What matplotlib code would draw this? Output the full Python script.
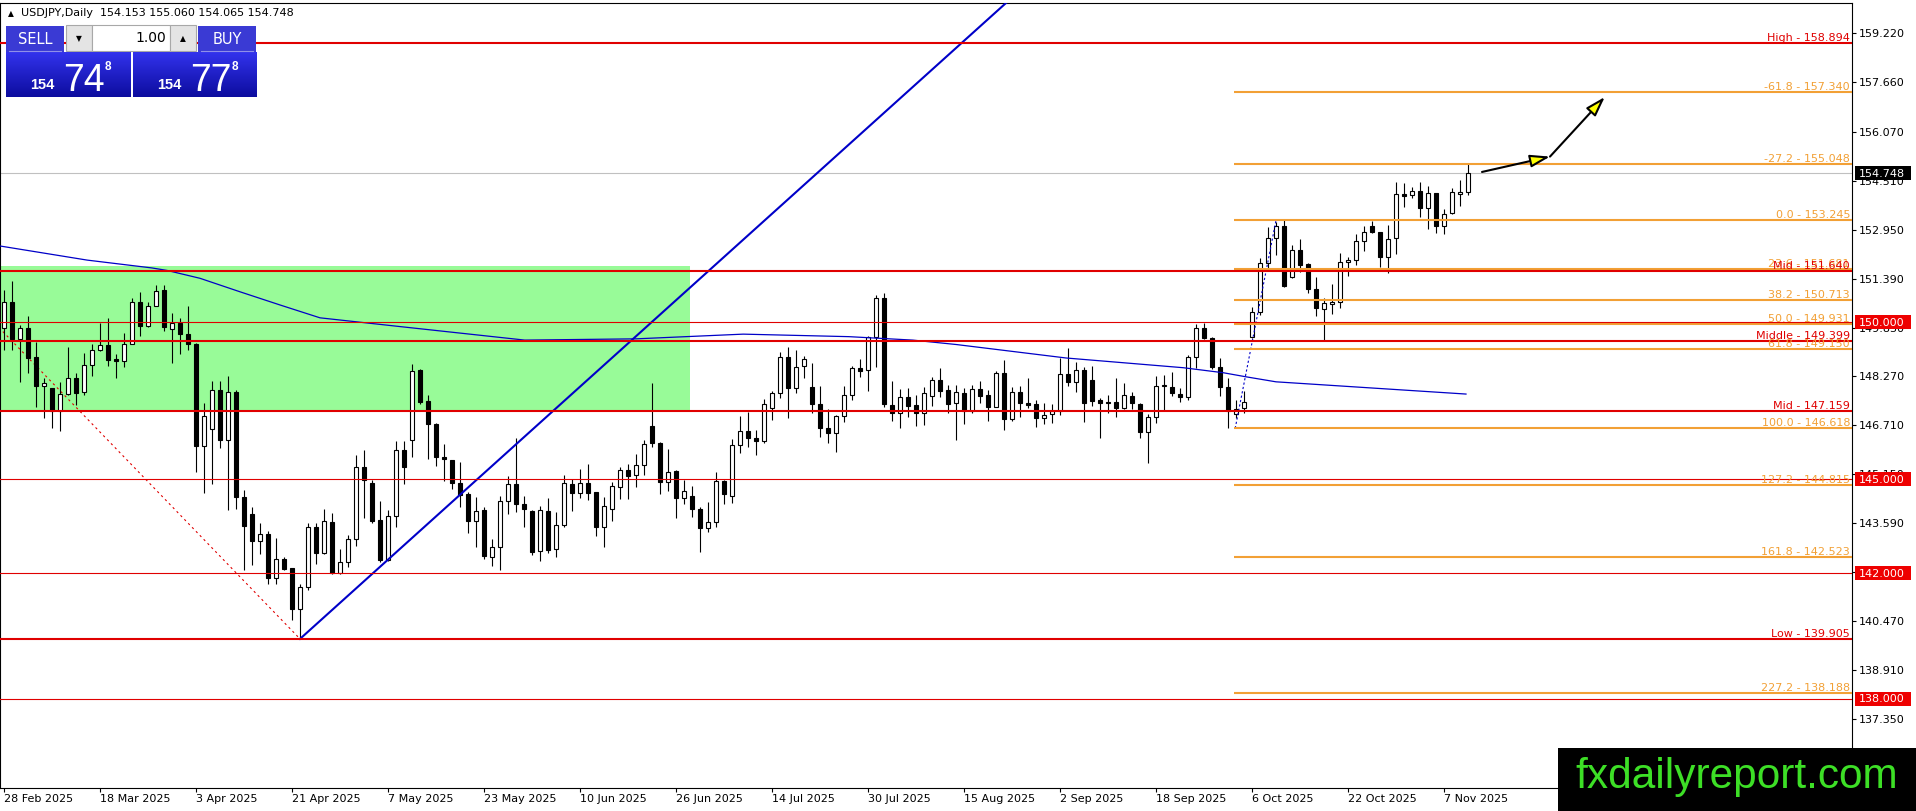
import numpy as np
import pandas as pd
import matplotlib
matplotlib.use('Agg')
import matplotlib.pyplot as plt
import matplotlib.colors as mcolors
from matplotlib.patches import Rectangle
from matplotlib.transforms import blended_transform_factory

# Datos diarios USDJPY (28 Feb 2025 - 12 Nov 2025)
fechas = pd.bdate_range('2025-02-28', '2025-11-12')

apertura = [
    149.80, 150.63, 149.46, 149.80, 148.88, 147.97, 147.89, 147.18, 147.70, 148.21,
    147.76, 148.65, 149.13, 149.27, 148.82, 148.75, 149.32, 150.66, 149.89, 150.53,
    151.04, 149.77, 149.99, 149.61, 149.29, 146.07, 146.61, 147.84, 146.26, 147.76,
    144.44, 143.90, 143.02, 143.24, 141.86, 142.44, 142.15, 140.87, 141.57, 143.46,
    142.63, 143.62, 142.02, 142.35, 143.08, 145.37, 144.87, 143.70, 142.42, 143.82,
    145.93, 146.25, 148.48, 147.49, 146.76, 145.71, 145.61, 144.87, 144.52, 143.67,
    144.01, 142.53, 142.82, 144.31, 144.83, 144.20, 143.98, 142.71, 143.98, 142.76,
    143.54, 144.83, 144.57, 144.87, 144.58, 143.48, 144.04, 144.76, 145.29, 145.13,
    145.45, 146.69, 146.14, 144.92, 145.26, 144.39, 144.46, 144.05, 143.43, 143.64,
    144.94, 144.46, 146.09, 146.54, 146.30, 146.22, 147.26, 147.73, 148.88, 147.89,
    148.60, 147.92, 147.38, 146.62, 146.48, 147.01, 147.68, 148.53, 148.48, 149.52,
    150.76, 147.36, 147.10, 147.61, 147.36, 147.12, 147.65, 148.16, 147.84, 147.41,
    147.75, 147.17, 147.86, 147.68, 147.31, 148.37, 146.90, 147.79, 147.44, 147.38,
    146.94, 147.06, 147.17, 148.34, 148.11, 148.48, 148.16, 147.52, 147.45, 147.45,
    147.26, 147.65, 147.39, 146.49, 146.99, 147.97, 147.92, 147.71, 147.63, 148.88,
    149.81, 149.49, 148.58, 147.92, 147.06, 147.26, 149.52, 150.34, 151.90, 152.68,
    153.07, 151.43, 152.30, 151.86, 151.05, 150.41, 150.57, 150.66, 151.91, 151.98,
    152.59, 153.07, 152.87, 152.09, 152.68, 154.08, 154.05, 154.19, 153.65, 154.11,
    153.07, 153.47, 154.10, 154.153,
]
maximo = [
    151.02, 151.31, 149.91, 150.19, 149.38, 148.21, 147.91, 148.10, 149.20, 148.37,
    149.03, 149.30, 149.99, 150.15, 148.99, 149.67, 150.76, 150.95, 150.65, 151.20,
    151.20, 150.28, 150.15, 150.51, 149.35, 147.43, 148.13, 148.13, 148.30, 147.84,
    144.65, 144.10, 143.59, 143.35, 143.11, 142.52, 142.18, 141.67, 143.59, 143.59,
    144.04, 143.91, 142.76, 143.22, 145.77, 145.93, 144.97, 144.30, 144.01, 146.22,
    146.22, 148.67, 148.50, 147.68, 146.78, 146.11, 145.62, 145.53, 144.60, 144.42,
    144.10, 143.08, 144.46, 145.10, 146.30, 144.46, 144.01, 144.14, 144.39, 143.96,
    145.13, 144.99, 145.32, 145.48, 144.60, 144.44, 144.92, 145.40, 145.48, 145.80,
    146.25, 148.05, 146.19, 145.95, 145.29, 144.97, 144.78, 144.10, 144.26, 145.24,
    144.97, 146.27, 147.01, 147.15, 146.56, 147.55, 147.81, 149.06, 149.20, 149.11,
    148.92, 148.69, 147.97, 147.22, 147.04, 147.97, 148.61, 148.82, 149.56, 150.87,
    150.92, 148.13, 147.86, 147.89, 147.68, 147.93, 148.26, 148.53, 148.00, 148.00,
    147.89, 148.00, 148.13, 147.84, 148.45, 148.80, 147.95, 147.97, 148.21, 147.52,
    147.44, 147.38, 148.85, 149.17, 148.74, 148.58, 148.60, 147.57, 147.68, 148.21,
    148.07, 147.79, 147.42, 147.06, 148.30, 148.32, 148.40, 147.89, 148.96, 149.94,
    149.97, 149.52, 148.85, 148.23, 147.52, 147.81, 150.48, 152.04, 153.02, 153.21,
    153.245, 152.46, 152.65, 151.90, 151.43, 150.76, 151.22, 152.20, 152.09, 152.81,
    153.08, 153.23, 152.89, 153.10, 154.46, 154.45, 154.30, 154.48, 154.34, 154.13,
    153.60, 154.27, 154.53, 155.060,
]
minimo = [
    149.11, 149.11, 148.10, 148.39, 147.30, 146.96, 146.64, 146.54, 147.68, 147.36,
    147.68, 148.28, 149.09, 148.60, 148.21, 148.58, 149.30, 149.57, 149.85, 150.51,
    149.73, 148.71, 148.99, 149.11, 145.21, 144.57, 144.83, 145.98, 144.01, 144.03,
    142.10, 142.26, 142.60, 141.64, 141.64, 142.10, 140.50, 139.905, 141.46, 142.29,
    142.61, 141.98, 141.98, 142.19, 142.87, 143.75, 143.59, 142.37, 142.40, 143.46,
    144.83, 145.71, 147.38, 145.63, 145.43, 144.94, 144.67, 144.10, 143.29, 142.82,
    142.44, 142.24, 142.10, 143.88, 143.96, 143.46, 142.58, 142.40, 142.63, 142.53,
    143.46, 143.99, 144.39, 144.33, 143.19, 142.82, 143.67, 144.35, 144.35, 144.76,
    145.13, 146.03, 144.51, 144.63, 143.77, 144.20, 143.80, 142.69, 143.32, 143.46,
    144.19, 144.25, 145.84, 146.03, 145.77, 146.14, 146.88, 147.57, 146.94, 147.75,
    148.21, 147.10, 146.33, 146.14, 145.87, 146.83, 147.52, 148.24, 147.82, 148.58,
    147.31, 146.86, 146.64, 146.99, 146.70, 146.72, 147.33, 147.61, 147.10, 146.25,
    146.76, 147.10, 147.44, 146.86, 147.29, 146.57, 146.85, 146.99, 147.26, 146.67,
    146.76, 146.80, 147.04, 147.97, 147.79, 146.83, 147.33, 146.32, 147.12, 146.99,
    147.22, 147.22, 146.30, 145.50, 146.78, 147.17, 147.65, 147.47, 147.52, 148.53,
    149.46, 148.51, 147.65, 146.618, 146.96, 147.12, 149.49, 150.23, 151.69, 152.14,
    151.13, 151.40, 151.61, 150.92, 150.21, 149.43, 150.26, 150.46, 151.47, 151.82,
    152.28, 152.86, 151.77, 151.56, 152.16, 153.66, 153.95, 153.37, 152.96, 152.83,
    152.81, 153.45, 153.71, 154.065,
]
cierre = [
    150.63, 149.46, 149.80, 148.87, 147.97, 148.05, 147.18, 147.70, 148.21, 147.75,
    148.65, 149.13, 149.26, 148.81, 148.75, 149.32, 150.66, 149.89, 150.52, 151.01,
    149.85, 149.96, 149.61, 149.29, 146.07, 147.01, 147.84, 146.26, 147.76, 144.44,
    143.51, 143.02, 143.24, 141.86, 142.44, 142.13, 140.87, 141.57, 143.46, 142.63,
    143.67, 142.02, 142.35, 143.08, 145.37, 144.97, 143.67, 142.42, 143.82, 145.93,
    145.37, 148.46, 147.47, 146.75, 145.69, 145.63, 144.87, 144.49, 143.67, 143.99,
    142.56, 142.82, 144.31, 144.83, 144.20, 144.04, 142.69, 144.01, 142.74, 143.54,
    144.87, 144.57, 144.87, 144.57, 143.48, 144.14, 144.78, 145.29, 145.10, 145.45,
    146.12, 146.14, 144.92, 145.24, 144.39, 144.63, 144.04, 143.43, 143.64, 144.94,
    144.51, 146.09, 146.54, 146.30, 146.22, 147.39, 147.73, 148.88, 147.89, 148.58,
    148.82, 147.38, 146.62, 146.48, 147.01, 147.68, 148.53, 148.46, 149.52, 150.76,
    147.39, 147.10, 147.61, 147.33, 147.12, 147.73, 148.16, 147.82, 147.38, 147.79,
    147.17, 147.86, 147.66, 147.31, 148.37, 146.92, 147.77, 147.42, 147.36, 146.94,
    147.04, 147.17, 148.34, 148.11, 148.48, 147.42, 147.50, 147.42, 147.42, 147.26,
    147.68, 147.42, 146.49, 146.99, 147.98, 148.00, 147.73, 147.63, 148.88, 149.81,
    149.49, 148.58, 147.92, 147.17, 147.23, 147.47, 150.34, 151.90, 152.67, 153.07,
    151.16, 152.30, 151.82, 151.05, 150.44, 150.62, 150.66, 151.91, 151.98, 152.59,
    152.87, 152.87, 152.09, 152.64, 154.08, 154.02, 154.19, 153.65, 154.11, 153.07,
    153.44, 154.14, 154.15, 154.748,
]

# Media móvil (puntos leídos sobre la línea azul)
media_x = [-0.5, 10.4, 18.5, 20.4, 24.5, 29.5, 34.5, 39.5, 49.9, 65.1, 79, 92.4,
           105.6, 113.6, 119, 132.75, 147.4, 152.4, 155.25, 159, 182.75]
media_y = [152.43, 151.98, 151.73, 151.65, 151.40, 150.97, 150.55, 150.14, 149.85,
           149.43, 149.47, 149.62, 149.54, 149.43, 149.29, 148.86, 148.55, 148.39,
           148.26, 148.10, 147.71]

# Niveles rojos con texto
rojos_texto = ['High', 'Mid', 'Middle', 'Mid', 'Low']
rojos_precio = [158.894, 151.640, 149.399, 147.159, 139.905]
# Niveles redondos (línea fina + etiqueta en el eje)
redondos = [150.0, 145.0, 142.0, 138.0]

# Niveles de Fibonacci
fibo_nivel = ['-61.8', '-27.2', '0.0', '23.6', '38.2', '50.0', '61.8', '100.0',
              '127.2', '161.8', '227.2']
fibo_precio = [157.340, 155.048, 153.245, 151.681, 150.713, 149.931, 149.150,
               146.618, 144.815, 142.523, 138.188]

# Escala de precios del eje derecho
ticks_precio = [137.350, 138.910, 140.470, 142.030, 143.590, 145.150, 146.710, 148.270,
                149.830, 151.390, 152.950, 154.510, 156.070, 157.660, 159.220]

precio_actual = 154.748

ROJO = '#e00000'
NARANJA = '#f2a035'
AZUL = '#0000c8'

fig = plt.figure(figsize=(19.16, 8.11), dpi=100)
ax = fig.add_axes([0, 23 / 811, 1852 / 1916, 785 / 811])
ax.set_xlim(-0.5, 231)
ax.set_ylim(135.152, 160.176)
px = (160.176 - 135.152) / 785  # precio por pixel

# Rectángulo verde de fondo
ax.add_patch(Rectangle((-0.5, 147.20), 86.25, 4.60, facecolor='#98fb98',
                       edgecolor='none', zorder=0.5))

# Línea del precio actual
ax.axhline(precio_actual, color='#c0c0c0', lw=0.8, zorder=1.5)

# Velas
x = np.arange(len(cierre))
base = [min(o, c) for o, c in zip(apertura, cierre)]
alto = [max(abs(c - o), 0.012) for o, c in zip(apertura, cierre)]
relleno = ['white' if c >= o else 'black' for o, c in zip(apertura, cierre)]
ax.vlines(x, minimo, maximo, color='black', lw=0.8, zorder=2)
ax.bar(x, alto, bottom=base, width=0.55, color=relleno, edgecolor='black',
       linewidth=0.8, zorder=2.1)

# Media móvil
ax.plot(media_x, media_y, color=AZUL, lw=0.9, zorder=3)

# Línea de tendencia desde el mínimo
ax.plot([37, 130], [139.905, 139.905 + 93 * 0.2297], color=AZUL, lw=1.5, zorder=3.2)

# Líneas base de Fibonacci (punteadas)
ax.plot([-35, 37], [158.894, 139.905], color=ROJO, lw=0.8, ls=(0, (2, 3)), zorder=1.8)
ax.plot([153.9, 159], [146.618, 153.245], color=AZUL, lw=0.8, ls=(0, (2, 2)), zorder=3)

mezcla = blended_transform_factory(ax.transAxes, ax.transData)


def etiqueta_nivel(texto, precio, color, z):
    ax.annotate(texto, xy=(1, precio), xycoords=mezcla, xytext=(-2, 2),
                textcoords='offset pixels', ha='right', va='baseline',
                fontsize=8, color=color, zorder=z)


# Niveles Fibonacci
ax.hlines(fibo_precio, 153.75, 231, color=NARANJA, lw=1.5, zorder=3.5)
for nivel, p in zip(fibo_nivel, fibo_precio):
    etiqueta_nivel(f'{nivel} - {p:.3f}', p, NARANJA, 4)

# Niveles rojos
for p in redondos:
    ax.axhline(p, color=ROJO, lw=0.8, zorder=3.6)
for t, p in zip(rojos_texto, rojos_precio):
    ax.axhline(p, color=ROJO, lw=1.5, zorder=3.7)
    etiqueta_nivel(f'{t} - {p:.3f}', p, ROJO, 4.5)

# Flechas de proyección
flecha = dict(arrowstyle='-|>,head_length=1.2,head_width=0.38', fc='yellow',
              ec='black', lw=1.5, shrinkA=0, shrinkB=0)
ax.annotate('', xy=(193.25, 155.28), xytext=(184.75, 154.79), arrowprops=flecha, zorder=5)
ax.annotate('', xy=(200.1, 157.18), xytext=(193.25, 155.28), arrowprops=flecha, zorder=5)

# Ejes
for s in ax.spines.values():
    s.set_linewidth(0.8)
ax.yaxis.tick_right()
ax.set_yticks(ticks_precio)
ax.set_yticklabels([f'{v:.3f}' for v in ticks_precio])
ax.tick_params(axis='y', length=3, width=0.8, pad=2, labelsize=8)
idx = list(range(0, len(fechas), 12))
ax.set_xticks(idx)
ax.set_xticklabels([f'{fechas[i].day} {fechas[i]:%b %Y}' for i in idx])
for lab in ax.get_xticklabels():
    lab.set_ha('left')
ax.tick_params(axis='x', length=3, width=0.8, pad=1.5, labelsize=8)


def etiqueta_precio(precio, fondo):
    h = 14 * px
    ax.add_patch(Rectangle((1 + 3 / 1852, precio - h / 2), 56 / 1852, h,
                           transform=mezcla, facecolor=fondo, edgecolor='none',
                           clip_on=False, zorder=6))
    ax.text(1 + 7 / 1852, precio - 0.5 * px, f'{precio:.3f}', transform=mezcla,
            color='white', fontsize=8, va='center', ha='left', zorder=7, clip_on=False)


for p in redondos:
    etiqueta_precio(p, '#ee0000')
etiqueta_precio(precio_actual, 'black')

# Capa superior en pixeles: panel de trading y marca de agua
capa = fig.add_axes([0, 0, 1, 1])
capa.set_xlim(0, 1916)
capa.set_ylim(811, 0)
capa.axis('off')


def caja(x0, y0, ancho, alto, color, borde='none'):
    capa.add_patch(Rectangle((x0, y0), ancho, alto, facecolor=color, edgecolor=borde, lw=0.8))


def degradado(x0, y0, ancho, alto, arriba, abajo):
    a = np.array(mcolors.to_rgb(arriba))
    b = np.array(mcolors.to_rgb(abajo))
    for k in range(alto):
        t = k / (alto - 1)
        caja(x0, y0 + k, ancho, 1.05, tuple(a * (1 - t) + b * t))


capa.text(8, 13.5, '▲', fontsize=5.5, va='center', ha='left')
capa.text(21, 13.5, 'USDJPY,Daily  154.153 155.060 154.065 154.748', fontsize=8,
          va='center', ha='left')

# botones superiores
caja(6, 26, 58, 26, '#3a3ad4')
caja(198, 26, 58, 26, '#3a3ad4')
capa.plot([9, 61], [51, 51], color='#9090e8', lw=0.8)
capa.plot([201, 253], [51, 51], color='#9090e8', lw=0.8)
capa.text(35, 39.5, 'SELL', color='white', fontsize=10.5, ha='center', va='center')
capa.text(227, 39.5, 'BUY', color='white', fontsize=10.5, ha='center', va='center')
caja(66, 25, 26, 26, '#e4e4e4', '#a8a8a8')
caja(92, 25, 78, 26, 'white', '#a8a8a8')
caja(170, 25, 26, 26, '#e4e4e4', '#a8a8a8')
capa.text(79, 38.5, '▼', fontsize=5.5, ha='center', va='center')
capa.text(183, 38.5, '▲', fontsize=5.5, ha='center', va='center')
capa.text(166, 38.5, '1.00', fontsize=10, ha='right', va='center')

# cajas de precios
degradado(6, 52, 125, 45, '#3232ec', '#0c0c9e')
degradado(133, 52, 124, 45, '#3232ec', '#0c0c9e')
for x0, grande in [(30, '74'), (157, '77')]:
    capa.text(x0, 89, '154', color='white', fontsize=10.5, fontweight='bold',
              family='Liberation Sans', va='baseline')
    capa.text(x0 + 33, 91, grande, color='white', fontsize=27,
              family='Liberation Sans', va='baseline')
    capa.text(x0 + 75, 70, '8', color='white', fontsize=8.5, fontweight='bold',
              family='Liberation Sans', va='baseline')

# marca de agua
caja(1558, 748, 358, 63, 'black')
capa.text(1575, 788, 'fxdailyreport.com', color='#3ddf26', fontsize=30.5,
          family='Liberation Sans', va='baseline', ha='left')

fig.savefig('out.png', dpi=100)
